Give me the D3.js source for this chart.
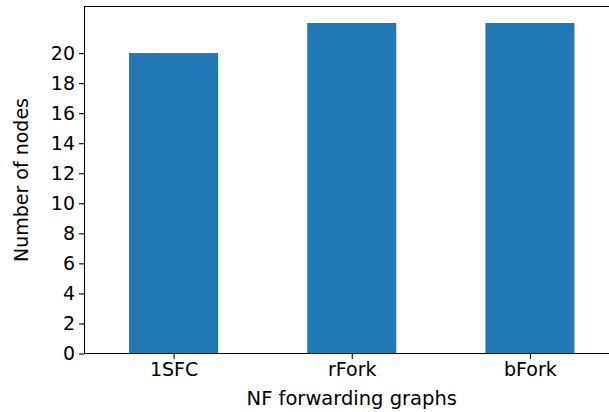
<!DOCTYPE html>
<html>
<head>
<meta charset="utf-8">
<style>
  body { margin: 0; background: #fff; }
  text { font-family: "DejaVu Sans", sans-serif; fill: #000; }
  .axis path, .axis line { stroke: #000; stroke-width: 1.1; }
  .axis text { font-size: 19px; fill: #000; }
</style>
</head>
<body>
<svg width="609" height="412"></svg>
<script src="https://cdn.jsdelivr.net/npm/d3@7"></script>
<script>
// chart data
var graphs = ["1SFC", "rFork", "bFork"];
var nodes = [20, 22, 22];
var yTicks = [0, 2, 4, 6, 8, 10, 12, 14, 16, 18, 20];

var svg = d3.select("svg");
var mLeft = 84.5, mRight = 619, mTop = 6.5, mBottom = 353.5;

// pandas-like: each category at integer position, xlim -0.5 .. n-0.5
var x = d3.scaleLinear()
    .domain([-0.5, graphs.length - 0.5])
    .range([mLeft, mRight]);

var y = d3.scaleLinear()
    .domain([0, d3.max(nodes) * 1.05])
    .range([mBottom, mTop]);

var barW = x(0.25) - x(-0.25);

svg.append("g")
    .selectAll("rect")
    .data(nodes)
    .enter().append("rect")
    .attr("x", function (d, i) { return x(i) - barW / 2; })
    .attr("y", function (d) { return y(d); })
    .attr("width", barW)
    .attr("height", function (d) { return y(0) - y(d); })
    .attr("fill", "#1f77b4");

// spines
svg.append("path")
    .attr("d", "M" + mLeft + "," + mBottom + "V" + mTop + "H" + mRight)
    .attr("fill", "none")
    .attr("stroke", "#000")
    .attr("stroke-width", 1.1);

svg.append("g")
    .attr("class", "axis")
    .attr("transform", "translate(0," + mBottom + ")")
    .call(d3.axisBottom(x)
        .tickValues(d3.range(graphs.length))
        .tickFormat(function (d) { return graphs[d]; })
        .tickSizeInner(5.5)
        .tickSizeOuter(0)
        .tickPadding(4))
    .call(function (g) { g.select(".domain").attr("d", "M" + mLeft + ",0H" + mRight); });

svg.append("g")
    .attr("class", "axis")
    .attr("transform", "translate(" + mLeft + ",0)")
    .call(d3.axisLeft(y)
        .tickValues(yTicks)
        .tickSize(5.5)
        .tickPadding(4))
    .call(function (g) { g.select(".domain").remove(); });

svg.append("text")
    .attr("x", mLeft + (x(2.5) - mLeft) / 2)
    .attr("y", 405)
    .attr("text-anchor", "middle")
    .attr("font-size", 19.5)
    .text("NF forwarding graphs");

svg.append("text")
    .attr("transform", "translate(28," + (mTop + mBottom) / 2 + ") rotate(-90)")
    .attr("text-anchor", "middle")
    .attr("font-size", 19)
    .text("Number of nodes");
</script>
</body>
</html>
